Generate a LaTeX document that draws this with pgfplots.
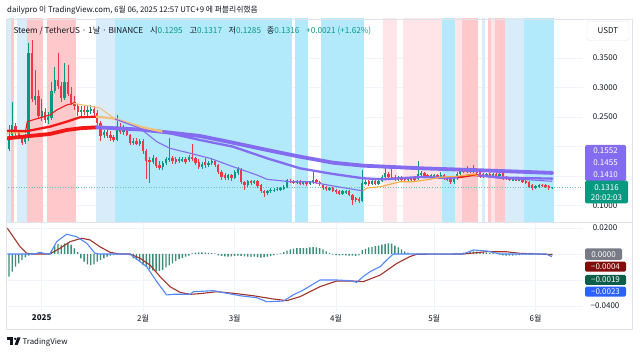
\documentclass[border=0pt]{standalone}
\usepackage{fontspec}
\setmainfont{Noto Sans CJK KR}
\usepackage{pgfplots}
\usepackage{pgfplotstable}
\pgfplotsset{compat=1.18}

\definecolor{upc}{RGB}{8,153,129}
\definecolor{dnc}{RGB}{242,54,69}
\definecolor{pinkL}{RGB}{255,229,232}
\definecolor{pinkD}{RGB}{255,201,203}
\definecolor{blueL}{RGB}{217,236,250}
\definecolor{cyanB}{RGB}{178,234,251}
\definecolor{gridc}{RGB}{240,243,250}
\definecolor{maRed}{RGB}{242,24,24}
\definecolor{maPur}{RGB}{132,108,240}
\definecolor{maTan}{RGB}{242,192,125}
\definecolor{maOr}{RGB}{255,172,62}
\definecolor{macdB}{RGB}{82,136,255}
\definecolor{sigR}{RGB}{160,52,42}
\definecolor{histc}{RGB}{56,142,118}
\definecolor{txt}{RGB}{19,23,34}
\definecolor{framec}{RGB}{224,227,235}
\definecolor{tagPur}{RGB}{132,108,240}
\definecolor{tagGray}{RGB}{120,123,134}
\definecolor{tagRed}{RGB}{128,12,12}
\definecolor{tagGrn}{RGB}{12,94,74}
\definecolor{tagBlu}{RGB}{41,98,255}

\newcommand\hf{\fontsize{7.8}{9}\selectfont}
\newcommand\lf{\fontsize{8.2}{10}\selectfont}
\newcommand\tf{\fontsize{8}{9}\selectfont}
\newcommand\band[3]{\addplot[fill=#3, draw=none, forget plot] coordinates {(#1,0) (#1,1) (#2,1) (#2,0)};}

\pgfplotstableread{
d o h l c
-10 0.196 0.236 0.192 0.216
-9 0.2195 0.276 0.214 0.2364
-8 0.234 0.24 0.218 0.224
-7 0.224 0.228 0.212 0.216
-6 0.216 0.218 0.203 0.206
-5 0.207 0.222 0.205 0.214
-4 0.214 0.375 0.210 0.358
-3 0.358 0.381 0.275 0.280
-2 0.278 0.330 0.270 0.285
-1 0.285 0.296 0.248 0.252
0 0.250 0.280 0.243 0.260
1 0.258 0.266 0.240 0.245
2 0.245 0.258 0.238 0.250
3 0.249 0.310 0.245 0.294
4 0.294 0.335 0.290 0.313
5 0.313 0.358 0.298 0.303
6 0.303 0.310 0.276 0.282
7 0.282 0.342 0.278 0.310
8 0.310 0.338 0.285 0.289
9 0.289 0.300 0.270 0.274
10 0.276 0.285 0.262 0.268
11 0.268 0.272 0.252 0.258
12 0.258 0.268 0.252 0.262
13 0.262 0.270 0.254 0.258
14 0.258 0.268 0.252 0.262
15 0.260 0.270 0.255 0.263
16 0.263 0.268 0.252 0.256
17 0.257 0.262 0.236 0.240
18 0.240 0.243 0.210 0.218
19 0.219 0.228 0.214 0.224
20 0.225 0.230 0.214 0.217
21 0.220 0.226 0.210 0.214
22 0.216 0.220 0.208 0.211
23 0.211 0.253 0.209 0.234
24 0.233 0.240 0.222 0.225
25 0.224 0.236 0.220 0.229
26 0.229 0.232 0.217 0.220
27 0.219 0.222 0.203 0.206
28 0.206 0.214 0.202 0.210
29 0.210 0.214 0.202 0.205
30 0.205 0.213 0.200 0.209
31 0.209 0.212 0.188 0.192
32 0.192 0.196 0.145 0.176
33 0.177 0.182 0.138 0.173
34 0.174 0.185 0.170 0.180
35 0.180 0.183 0.163 0.167
36 0.168 0.176 0.160 0.164
37 0.165 0.176 0.161 0.172
38 0.172 0.183 0.168 0.179
39 0.177 0.214 0.174 0.180
40 0.180 0.184 0.171 0.175
41 0.178 0.182 0.170 0.174
42 0.175 0.182 0.172 0.178
43 0.176 0.183 0.173 0.179
44 0.179 0.182 0.171 0.174
45 0.177 0.186 0.174 0.182
46 0.182 0.205 0.175 0.178
47 0.180 0.183 0.169 0.172
48 0.174 0.178 0.162 0.166
49 0.166 0.174 0.162 0.170
50 0.174 0.180 0.163 0.168
51 0.168 0.176 0.165 0.172
52 0.172 0.178 0.168 0.175
53 0.175 0.177 0.166 0.169
54 0.169 0.171 0.153 0.156
55 0.157 0.160 0.144 0.149
56 0.152 0.155 0.143 0.146
57 0.146 0.154 0.143 0.151
58 0.151 0.153 0.142 0.146
59 0.147 0.160 0.145 0.156
60 0.155 0.166 0.152 0.162
61 0.161 0.164 0.137 0.140
62 0.140 0.142 0.127 0.134
63 0.134 0.144 0.132 0.141
64 0.141 0.144 0.135 0.138
65 0.138 0.143 0.136 0.141
66 0.141 0.143 0.130 0.133
67 0.134 0.136 0.121 0.124
68 0.125 0.127 0.115 0.121
69 0.121 0.127 0.118 0.125
70 0.125 0.130 0.122 0.127
71 0.126 0.130 0.123 0.127
72 0.127 0.131 0.124 0.128
73 0.127 0.132 0.125 0.129
74 0.128 0.134 0.126 0.131
75 0.131 0.145 0.129 0.1425
76 0.142 0.145 0.138 0.141
77 0.141 0.144 0.136 0.139
78 0.139 0.144 0.136 0.141
79 0.141 0.143 0.134 0.136
80 0.137 0.142 0.134 0.140
81 0.140 0.142 0.133 0.136
82 0.136 0.141 0.134 0.139
83 0.139 0.157 0.137 0.143
84 0.143 0.145 0.137 0.140
85 0.140 0.142 0.133 0.136
86 0.135 0.137 0.127 0.130
87 0.131 0.133 0.125 0.128
88 0.127 0.131 0.125 0.129
89 0.129 0.131 0.123 0.125
90 0.126 0.128 0.120 0.123
91 0.125 0.127 0.117 0.1195
92 0.120 0.126 0.118 0.124
93 0.122 0.126 0.119 0.124
94 0.125 0.127 0.116 0.118
95 0.118 0.120 0.101 0.110
96 0.112 0.115 0.106 0.109
97 0.111 0.114 0.104 0.108
98 0.108 0.160 0.106 0.1376
99 0.137 0.143 0.134 0.140
100 0.141 0.143 0.133 0.136
101 0.136 0.144 0.134 0.141
102 0.141 0.143 0.135 0.137
103 0.137 0.143 0.135 0.141
104 0.141 0.152 0.139 0.149
105 0.148 0.165 0.146 0.1545
106 0.154 0.157 0.146 0.148
107 0.149 0.163 0.144 0.147
108 0.149 0.151 0.142 0.144
109 0.144 0.150 0.142 0.148
110 0.148 0.150 0.141 0.144
111 0.146 0.148 0.140 0.143
112 0.143 0.148 0.141 0.146
113 0.147 0.149 0.142 0.144
114 0.146 0.148 0.142 0.144
115 0.145 0.176 0.143 0.154
116 0.152 0.158 0.149 0.155
117 0.155 0.157 0.147 0.149
118 0.151 0.153 0.146 0.148
119 0.148 0.153 0.146 0.151
120 0.149 0.153 0.147 0.151
121 0.151 0.153 0.147 0.149
122 0.149 0.157 0.147 0.152
123 0.151 0.153 0.144 0.146
124 0.147 0.149 0.142 0.144
125 0.145 0.147 0.136 0.139
126 0.139 0.148 0.137 0.146
127 0.146 0.156 0.144 0.154
128 0.154 0.163 0.152 0.160
129 0.160 0.163 0.155 0.157
130 0.157 0.167 0.155 0.160
131 0.160 0.162 0.155 0.157
132 0.157 0.168 0.155 0.160
133 0.161 0.163 0.152 0.1545
134 0.156 0.158 0.147 0.149
135 0.153 0.155 0.146 0.149
136 0.150 0.155 0.148 0.153
137 0.153 0.155 0.149 0.151
138 0.151 0.155 0.149 0.153
139 0.153 0.155 0.148 0.150
140 0.150 0.155 0.148 0.153
141 0.157 0.159 0.144 0.146
142 0.148 0.150 0.143 0.145
143 0.146 0.148 0.142 0.144
144 0.143 0.147 0.141 0.145
145 0.145 0.147 0.141 0.143
146 0.143 0.147 0.141 0.145
147 0.144 0.146 0.138 0.140
148 0.141 0.143 0.136 0.138
149 0.139 0.141 0.130 0.132
150 0.134 0.136 0.127 0.129
151 0.130 0.135 0.128 0.133
152 0.132 0.137 0.130 0.135
153 0.135 0.137 0.131 0.133
154 0.134 0.136 0.130 0.1325
155 0.133 0.135 0.127 0.1295
156 0.1295 0.1317 0.1285 0.1316
}\candles

\pgfplotstableread{
d v
-10 -0.0174
-9 -0.0136
-8 -0.0098
-7 -0.0072
-6 -0.0046
-5 -0.0026
-4 -0.0012
-3 -0.0005
-2 0.0003
-1 0.0008
0 0.0005
1 -0.0003
2 0.0005
3 0.0030
4 0.0064
5 0.0077
6 0.0070
7 0.0082
8 0.0087
9 0.0070
10 0.0044
11 0.0015
12 -0.0033
13 -0.0059
14 -0.0080
15 -0.0085
16 -0.0080
17 -0.0059
18 -0.0046
19 -0.0033
20 -0.0020
21 -0.0013
22 -0.0008
23 -0.0004
24 -0.0002
25 0.0002
26 0.0001
27 -0.0010
28 -0.0033
29 -0.0046
30 -0.0059
31 -0.0085
32 -0.0100
33 -0.0115
34 -0.0126
35 -0.0130
36 -0.0130
37 -0.0122
38 -0.0103
39 -0.0088
40 -0.0072
41 -0.0055
42 -0.0040
43 -0.0030
44 -0.0020
45 -0.0012
46 0.0005
47 0.0010
48 0.0013
49 0.0012
50 0.0010
51 0.0008
52 0.0006
53 0.0004
54 -0.0010
55 -0.0015
56 -0.0018
57 -0.0020
58 -0.0018
59 -0.0015
60 -0.0013
61 -0.0015
62 -0.0018
63 -0.0020
64 -0.0022
65 -0.0020
66 -0.0025
67 -0.0028
68 -0.0025
69 -0.0020
70 -0.0015
71 -0.0008
72 -0.0003
73 0.0005
74 0.0015
75 0.0025
76 0.0035
77 0.0042
78 0.0046
79 0.0046
80 0.0045
81 0.0046
82 0.0050
83 0.0052
84 0.0050
85 0.0046
86 0.0035
87 0.0020
88 0.0008
89 -0.0005
90 -0.0008
91 -0.0010
92 -0.0008
93 -0.0010
94 -0.0012
95 -0.0013
96 -0.0015
97 -0.0010
98 0.0030
99 0.0040
100 0.0050
101 0.0055
102 0.0060
103 0.0065
104 0.0072
105 0.0078
106 0.0082
107 0.0080
108 0.0065
109 0.0050
110 0.0035
111 0.0020
112 0.0010
113 0.0003
114 0.0002
115 0.0002
116 0.0003
117 0.0002
118 0.0002
119 0.0001
120 0.0002
121 0.0002
122 0.0003
123 0.0002
124 0.0002
125 0.0001
126 0.0002
127 0.0004
128 0.0006
129 0.0010
130 0.0015
131 0.0018
132 0.0020
133 0.0018
134 0.0015
135 0.0012
136 0.0010
137 0.0008
138 0.0005
139 0.0003
140 -0.0005
141 -0.0010
142 -0.0012
143 -0.0013
144 -0.0012
145 -0.0010
146 -0.0008
147 -0.0006
148 -0.0005
149 -0.0004
150 -0.0003
151 -0.0002
152 -0.0002
153 -0.0002
154 -0.0003
155 -0.0006
156 -0.0010
}\hist

\pgfplotsset{
  tvaxis/.style={
    scale only axis, width=576pt,
    xmin=-10.6, xmax=165.5,
    axis line style={draw=none},
    major tick length=0pt,
    grid=major, major grid style={gridc, line width=0.6pt},
    xtick={0,31,59,90,120,151},
    scaled y ticks=false, scaled x ticks=false,
    yticklabel pos=right,
    yticklabel style={anchor=center, xshift=22pt, font=\tf, text=txt},
    xticklabel style={font=\tf, text=txt},
  }
}

\begin{document}
\begin{tikzpicture}[x=1pt,y=1pt]
\fill[white] (0,0) rectangle (640,356);
\useasboundingbox (0,0) rectangle (640,356);

% ---------------- price pane ----------------
\begin{axis}[tvaxis, at={(7pt,134pt)}, anchor=south west, height=203pt,
  ymin=0.072034, ymax=0.416102,
  ytick={0.10,0.15,0.20,0.25,0.30,0.35},
  yticklabels={0.1000,,,0.2500,0.3000,0.3500},
  xticklabels={}]
\band{-10.6}{-9.5}{blueL}
\band{-9.5}{-8.5}{pinkD}
\band{-7.5}{-4.5}{blueL}
\band{-4.5}{0.5}{pinkD}
\band{1.5}{10.5}{pinkD}
\band{16.5}{22.5}{blueL}
\band{22.5}{76.5}{cyanB}
\band{77.5}{81.5}{cyanB}
\band{85.5}{98.5}{cyanB}
\band{104.5}{108.5}{pinkL}
\band{110.5}{122.5}{pinkL}
\band{122.5}{126.5}{cyanB}
\band{126.5}{128.5}{pinkL}
\band{128.5}{133.5}{pinkD}
\band{134.5}{135.5}{blueL}
\band{136.5}{137.5}{pinkD}
\band{137.5}{138.5}{pinkL}
\band{138.5}{141.5}{pinkD}
\band{141.5}{147.5}{blueL}
\band{147.5}{156.5}{cyanB}

% last price line
\addplot[upc!60, dotted, line width=0.6pt, forget plot] coordinates {(-11,0.1316) (166,0.1316)};

% wicks
\addplot[draw=none, mark=none, forget plot, unbounded coords=discard,
  error bars/.cd, y dir=both, y explicit, error mark=none,
  error bar style={draw=upc, line width=0.6pt}]
  table[x=d, y expr={\thisrow{c}>=\thisrow{o} ? 0.5*(\thisrow{h}+\thisrow{l}) : nan},
        y error expr={0.5*(\thisrow{h}-\thisrow{l})}] {\candles};
\addplot[draw=none, mark=none, forget plot, unbounded coords=discard,
  error bars/.cd, y dir=both, y explicit, error mark=none,
  error bar style={draw=dnc, line width=0.6pt}]
  table[x=d, y expr={\thisrow{c}<\thisrow{o} ? 0.5*(\thisrow{h}+\thisrow{l}) : nan},
        y error expr={0.5*(\thisrow{h}-\thisrow{l})}] {\candles};
% bodies
\addplot[draw=none, mark=none, forget plot, unbounded coords=discard,
  error bars/.cd, y dir=both, y explicit, error mark=none,
  error bar style={draw=upc, line width=2.3pt}]
  table[x=d, y expr={\thisrow{c}>=\thisrow{o} ? 0.5*(\thisrow{o}+\thisrow{c}) : nan},
        y error expr={0.5*abs(\thisrow{c}-\thisrow{o})}] {\candles};
\addplot[draw=none, mark=none, forget plot, unbounded coords=discard,
  error bars/.cd, y dir=both, y explicit, error mark=none,
  error bar style={draw=dnc, line width=2.3pt}]
  table[x=d, y expr={\thisrow{c}<\thisrow{o} ? 0.5*(\thisrow{o}+\thisrow{c}) : nan},
        y error expr={0.5*abs(\thisrow{c}-\thisrow{o})}] {\candles};

% long MA (thick)
\addplot[maRed, line width=3.8pt, line cap=round, line join=round] coordinates {
(-10.6,0.2139) (-3.6,0.2178) (2.5,0.2212) (7.7,0.228) (12,0.231) (16.9,0.2325)};
\addplot[maPur, line width=3.8pt, line cap=round, line join=round] coordinates {
(16.9,0.2325) (30.1,0.2288) (40.2,0.2229) (48.4,0.2178) (58.5,0.2064) (68.9,0.1941)
(79,0.1827) (89.1,0.1725) (98.3,0.1675) (115.7,0.1631) (124.9,0.1614) (140.2,0.1585) (156.1,0.1552)};
% medium MA
\addplot[maRed, line width=2.3pt, line cap=round, line join=round] coordinates {
(-10.6,0.2268) (-4.6,0.226) (2.5,0.2336) (7.6,0.242) (11.7,0.2495) (16.8,0.2505)};
\addplot[maTan, line width=2.3pt, line cap=round, line join=round] coordinates {
(16.8,0.2505) (22,0.2475) (30.1,0.2336) (37.1,0.225)};
\addplot[maPur, line width=2.3pt, line cap=round, line join=round] coordinates {
(37.1,0.225) (48.4,0.211) (58.5,0.1997) (68.9,0.18) (79,0.163) (89.1,0.1534) (98.3,0.1461)
(104.4,0.1444) (115.7,0.1483) (124.9,0.1466) (127.5,0.148)};
\addplot[maRed, line width=2.3pt, line cap=round, line join=round] coordinates {
(127.5,0.148) (131.9,0.1517) (133.5,0.151)};
\addplot[maPur, line width=2.3pt, line cap=round, line join=round] coordinates {
(133.5,0.151) (140.2,0.1475) (156.1,0.1455)};
% short MA (thin)
\addplot[maOr, line width=1.1pt, line join=round] coordinates {
(-10.6,0.2225) (-5,0.2235)};
\addplot[maRed, line width=1.1pt, line join=round] coordinates {
(-5,0.2235) (-4.4,0.242) (-2.7,0.245) (2.5,0.2534) (4.6,0.2619) (7.6,0.2703) (9.7,0.2732)};
\addplot[maTan, line width=1.1pt, line join=round] coordinates {
(9.7,0.2732) (10.8,0.272) (15.7,0.2675) (17.8,0.2653) (22.4,0.2466)};
\addplot[maPur, line width=1.1pt, line join=round] coordinates {
(22.4,0.2466) (30.1,0.2308) (35.2,0.2082) (39.2,0.197) (45.4,0.1885) (51.5,0.18)
(58.5,0.1658) (65.8,0.1517) (68.9,0.1444) (75.9,0.1403) (82,0.1403) (89.1,0.1331)
(96.4,0.1263) (98.3,0.1251)};
\addplot[maOr, line width=1.1pt, line join=round] coordinates {
(98.3,0.1251) (99.5,0.1297) (103.5,0.1318) (109.6,0.1403) (113.6,0.1403) (118.7,0.1444)
(121.8,0.1478) (127.9,0.15) (131.9,0.1525) (133.5,0.1505)};
\addplot[maPur, line width=1.1pt, line join=round] coordinates {
(133.5,0.1505) (140.2,0.146) (146.3,0.1445) (156.1,0.141)};
\end{axis}

% ---------------- MACD pane ----------------
\begin{axis}[tvaxis, at={(7pt,45pt)}, anchor=south west, height=89pt,
  ymin=-0.043846, ymax=0.024615,
  ytick={-0.04,-0.02,0,0.02},
  yticklabels={−0.0400,,,0.0200},
  xticklabels={\textbf{2025},2월,3월,4월,5월,6월}]
\addplot[ybar, bar width=1.4pt, fill=histc, draw=none, forget plot] table[x=d,y=v] {\hist};
\addplot[sigR, line width=1.1pt, line join=round] coordinates {
(-10.5,0.0198) (-8.7,0.0133) (-6.6,0.0056) (-4.6,0.0005) (-2.7,0.0) (2.5,0.0)
(5.6,0.0044) (8.7,0.0095) (12.2,0.0121) (14.8,0.0108) (17.8,0.0056) (20.9,0.0013)
(23.9,0.0) (27,0.0) (30.1,-0.0033) (33.1,-0.0085) (36.2,-0.0174) (39.2,-0.0251)
(42.3,-0.0295) (45.4,-0.031) (48.4,-0.0305) (53.5,-0.029) (58.5,-0.0302) (64.7,-0.0321)
(70.8,-0.0346) (74.9,-0.0359) (79,-0.0328) (85.1,-0.0251) (90.2,-0.0208) (95.3,-0.0208)
(98.3,-0.0213) (103.5,-0.0162) (108.6,-0.0072) (112.6,-0.002) (114.7,-0.0002) (128.8,0.0)
(136.1,0.0018) (142.2,0.0017) (146.3,0.0005) (156,-0.0004)};
\addplot[macdB, line width=1.1pt, line join=round] coordinates {
(-10.5,0.0) (-2.7,0.0) (-1.5,0.0005) (-0.5,0.0013) (1.5,0.0) (2.5,0.0) (4.6,0.0095)
(7.6,0.0152) (10.7,0.0133) (13.8,0.0082) (16.3,0.0005) (17.8,0.0) (27,0.0) (30.1,-0.0059)
(32.1,-0.0097) (35.2,-0.0213) (38.2,-0.0315) (40.2,-0.031) (45.4,-0.031) (46.4,-0.029)
(52.5,-0.0282) (56.6,-0.0302) (60.6,-0.0321) (65.7,-0.0336) (68.8,-0.0367) (73.9,-0.0362)
(76.9,-0.0315) (80,-0.0277) (85.1,-0.02) (90.2,-0.02) (94.3,-0.0205) (96.3,-0.0218)
(98.3,-0.0174) (100.4,-0.0136) (103.5,-0.0097) (105.5,-0.0046) (107.5,0.0) (128.8,0.0)
(132,0.0031) (136.1,0.0023) (140.2,0.0) (154.2,0.0) (156,-0.0021)};
\end{axis}

% frame
\draw[framec, line width=0.6pt] (6,27) rectangle (632,337);
\draw[framec, line width=0.6pt] (6,134) -- (632,134);

% header & legend
\node[anchor=base west, inner sep=0, font=\hf, text=txt] at (7,343.3)
  {dailypro 이 TradingView.com, 6월 06, 2025 12:57 UTC+9 에 퍼블리쉬했음};
\node[anchor=base west, inner sep=0, font=\lf, text=txt] at (13.3,322.5) {Steem / TetherUS · 1날 · BINANCE};
\node[anchor=base west, inner sep=0, font=\lf] at (150,322.5) {\textcolor{txt}{시}\textcolor{upc}{0.1295}};
\node[anchor=base west, inner sep=0, font=\lf] at (189.3,322.5) {\textcolor{txt}{고}\textcolor{upc}{0.1317}};
\node[anchor=base west, inner sep=0, font=\lf] at (228.3,322.5) {\textcolor{txt}{저}\textcolor{upc}{0.1285}};
\node[anchor=base west, inner sep=0, font=\lf] at (266.7,322.5) {\textcolor{txt}{종}\textcolor{upc}{0.1316}};
\node[anchor=base west, inner sep=0, font=\lf, text=upc] at (306,322.5) {+0.0021 (+1.62\%)};

% right scale tags
\node[draw=framec, fill=white, rounded corners=2pt, minimum width=42pt, minimum height=19pt, inner sep=0, font=\tf, text=txt] at (608,325) {USDT};
\fill[tagPur, rounded corners=1.5pt] (585,175) rectangle (626,211);
\node[font=\tf, text=white] at (605.5,205.3) {0.1552};
\node[font=\tf, text=white] at (605.5,193.7) {0.1455};
\node[font=\tf, text=white] at (605.5,181) {0.1410};
\fill[upc, rounded corners=1.5pt] (585,152.7) rectangle (628,175.3);
\node[font=\tf, text=white] at (606.5,168.7) {0.1316};
\node[font=\tf, text=white] at (606.5,158.7) {20:02:03};
\fill[tagGray, rounded corners=1.5pt] (585,96) rectangle (622,107.7);
\node[font=\tf, text=white] at (603.5,101.8) {0.0000};
\fill[tagRed, rounded corners=1.5pt] (585,84.3) rectangle (626,94.3);
\node[font=\tf, text=white] at (605.5,89.3) {−0.0004};
\fill[tagGrn, rounded corners=1.5pt] (585,71) rectangle (626,81);
\node[font=\tf, text=white] at (605.5,76) {−0.0019};
\fill[tagBlu, rounded corners=1.5pt] (585,59.3) rectangle (626,69.3);
\node[font=\tf, text=white] at (605.5,64.3) {−0.0023};

% TradingView logo
\fill[txt] (7,18.5) rectangle (13.2,16.2);
\fill[txt] (10.3,16.2) rectangle (12.8,11);
\fill[txt] (15.2,17.2) circle (1.3);
\fill[txt] (17.2,18.5) -- (20.6,18.5) -- (17.6,11) -- (14.6,11) -- cycle;
\node[anchor=base west, inner sep=0, font=\hf, text=txt] at (22.5,11) {TradingView};
\end{tikzpicture}
\end{document}
